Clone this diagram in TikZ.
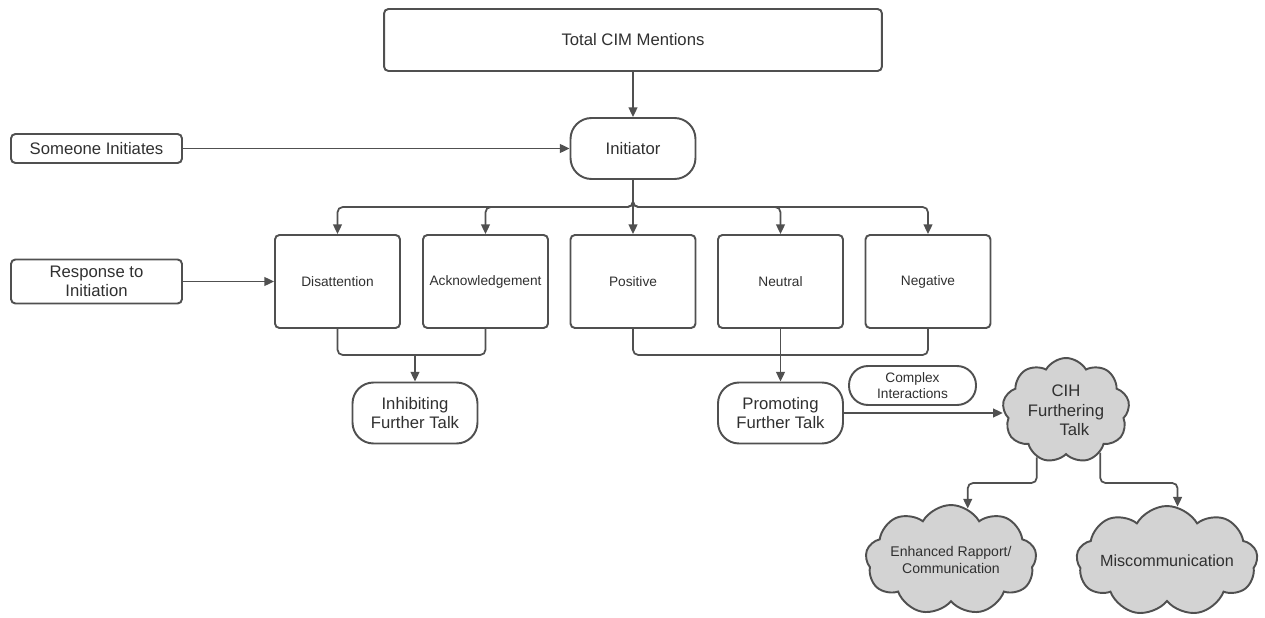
\documentclass[tikz,border=0pt]{standalone}
\usepackage{fontspec}
\setmainfont{Liberation Sans}
\usetikzlibrary{arrows.meta, shapes.symbols}

\definecolor{linegray}{HTML}{505050}
\definecolor{inkgray}{HTML}{303030}
\definecolor{cloudgray}{HTML}{D3D3D3}

\begin{document}
\begin{tikzpicture}[x = 0.02cm, y = -0.02cm, > = {Triangle[length = 5.5pt, width = 5pt]},
	box/.style = {draw = linegray, line width = 1.1pt, fill = white, text = inkgray, rounded corners = 2.5pt, align = center, inner sep = 1pt, font = \fontsize{7.8}{9.5}\selectfont},
	sidebox/.style = {box, font = \fontsize{9.5}{11}\selectfont},
	pill/.style = {box, rounded corners = 0.42cm, font = \fontsize{9.5}{11}\selectfont, minimum width = 2.5cm, minimum height = 1.22cm},
	puff/.style = {draw = linegray, line width = 1.1pt, fill = cloudgray, text = inkgray, cloud, cloud puffs = 9, cloud puff arc = 120, cloud ignores aspect, align = center, inner sep = 0pt, font = \fontsize{9.5}{11}\selectfont},
	link/.style = {->, draw = linegray, line width = 1pt, rounded corners = 3pt},
	merge/.style = {draw = linegray, line width = 1pt, rounded corners = 3pt}]

\useasboundingbox (0, 0) rectangle (1265, 618);

% Definitions

\def\W{2.5cm}		% Response box width
\def\H{1.86cm}		% Response box height

% Top of the tree

\node [sidebox, minimum width = 9.96cm, minimum height = 1.24cm] (top) at (633, 40) {Total CIM Mentions};
\node [pill] (init) at (633, 148.5) {Initiator};

% Row labels

\node [sidebox, minimum width = 3.42cm, minimum height = 0.58cm] (some) at (96.5, 148.5) {Someone Initiates};
\node [sidebox, minimum width = 3.42cm, minimum height = 0.88cm] (resp) at (96.5, 281.5) {Response to\\Initiation};

% Responses

\node [box, minimum width = \W, minimum height = \H] (dis) at (337.5, 281.5) {Disattention};
\node [box, minimum width = \W, minimum height = \H] (ack) at (485.5, 281.5) {Acknowledgement};
\node [box, minimum width = \W, minimum height = \H] (pos) at (633, 281.5) {Positive};
\node [box, minimum width = \W, minimum height = \H] (neu) at (780.5, 281.5) {Neutral};
\node [box, minimum width = \W, minimum height = \H] (neg) at (928, 281.5) {Negative};

% Outcomes

\node [pill] (inh) at (415, 413) {Inhibiting\\Further Talk};
\node [pill] (pro) at (780.5, 413) {Promoting\\Further Talk};
\node [box, rounded corners = 0.38cm, minimum width = 2.54cm, minimum height = 0.78cm] (cplx) at (912.5, 385.5) {Complex\\Interactions};

% Clouds

\node [puff, minimum width = 2.54cm, minimum height = 2.1cm] (cih) at (1066, 410.5) {CIH\\Furthering\\\hspace{1em}Talk};
\node [puff, minimum width = 3.42cm, minimum height = 2.2cm, font = \fontsize{8}{9.5}\selectfont] (enh) at (951, 560) {Enhanced Rapport/\\Communication};
\node [puff, minimum width = 3.34cm, minimum height = 2.2cm, font = \fontsize{9.2}{11}\selectfont] (mis) at (1167, 561) {Miscommunication};

% Connectors

\coordinate (bus) at (633, 207);
\coordinate (inhjoin) at (415, 355);
\coordinate (projoin) at (780.5, 355);
\coordinate (split) at (1067, 483);

\draw [link] (top.south) -- (init.north);
\draw [link] (some.east) -- (init.west);
\draw [link] (resp.east) -- (resp.east -| dis.west);

\draw [link] (init.south) -- (pos.north);
\foreach \n in {dis, ack, neu, neg}
	\draw [link] (init.south) -- (bus) -| (\n.north);

\draw [merge] (dis.south) |- (inhjoin) -| (ack.south);
\draw [link] (inhjoin) -- (inh.north);

\draw [merge] (pos.south) |- (projoin) -| (neg.south);
\draw [link] (neu.south) -- (pro.north);

\draw [link] (pro.east) -- (pro.east -| cih.west);

\draw [link] (cih.238) -- (cih.238 |- split) -| (enh.72);
\draw [link] (cih.309) -- (cih.309 |- split) -| (mis.79);

\end{tikzpicture}
\end{document}
